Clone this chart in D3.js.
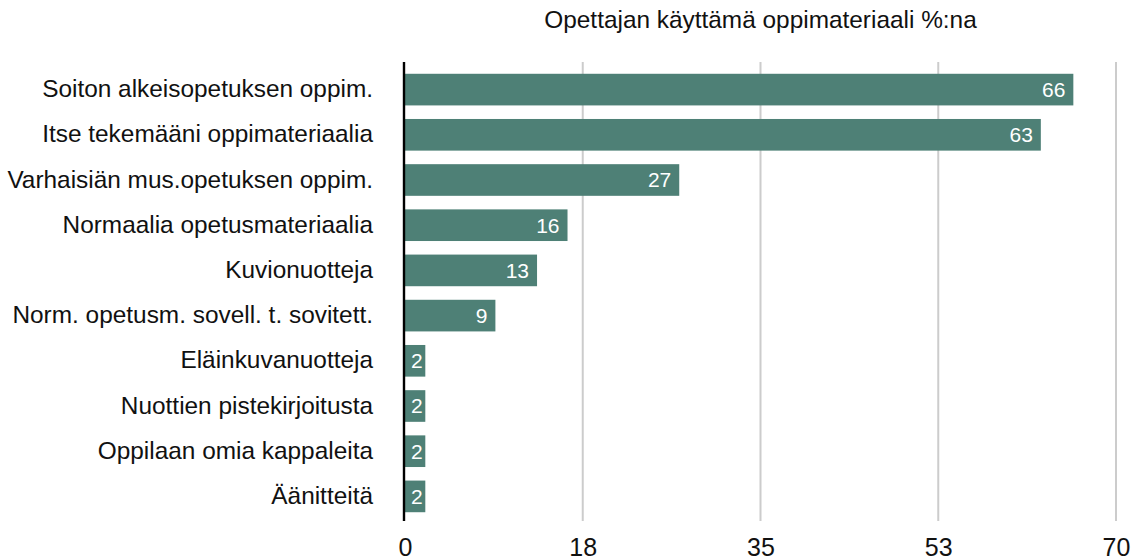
<!DOCTYPE html>
<html>
<head>
<meta charset="utf-8">
<script src="https://cdn.jsdelivr.net/npm/d3@7"></script>
<style>
  html, body { margin: 0; padding: 0; background: #fff; }
  svg { display: block; font-family: "Liberation Sans", Arial, Helvetica, sans-serif; }
</style>
</head>
<body>
<svg id="chart" width="1144" height="560"></svg>
<script>
const title = "Opettajan käyttämä oppimateriaali %:na";
const categories = [
  "Soiton alkeisopetuksen oppim.",
  "Itse tekemääni oppimateriaalia",
  "Varhaisiän mus.opetuksen oppim.",
  "Normaalia opetusmateriaalia",
  "Kuvionuotteja",
  "Norm. opetusm. sovell. t. sovitett.",
  "Eläinkuvanuotteja",
  "Nuottien pistekirjoitusta",
  "Oppilaan omia kappaleita",
  "Äänitteitä"
];
const values = [65.8, 62.6, 27, 16, 13, 8.9, 2, 2, 2, 2];
const tickValues = [0, 17.5, 35, 52.5, 70];
const tickLabels = ["0", "18", "35", "53", "70"];

const svg = d3.select("#chart");
const x = d3.scaleLinear().domain([0, 70]).range([405, 1116]);
const y = d3.scaleBand().domain(categories).range([67, 519]).paddingInner(0.3).paddingOuter(0.15);

// gridlines
svg.append("g").selectAll("line")
  .data(tickValues.slice(1))
  .join("line")
  .attr("x1", d => x(d)).attr("x2", d => x(d))
  .attr("y1", 62).attr("y2", 521)
  .attr("stroke", "#cccccc").attr("stroke-width", 2);

// bars
svg.append("g").selectAll("rect")
  .data(values)
  .join("rect")
  .attr("x", x(0))
  .attr("y", (d, i) => y(categories[i]))
  .attr("width", d => x(d) - x(0))
  .attr("height", y.bandwidth())
  .attr("fill", "#4e8076");

// value labels
const fmt = d3.format(".0f");
svg.append("g").selectAll("text")
  .data(values)
  .join("text")
  .each(function(d, i) {
    const t = d3.select(this);
    const w = x(d) - x(0);
    const small = w < 40;
    t.attr("x", small ? x(0) + 6 : x(d) - 8)
     .attr("text-anchor", small ? "start" : "end")
     .attr("y", y(categories[i]) + y.bandwidth() / 2)
     .attr("dy", "0.35em")
     .attr("fill", "#ffffff")
     .attr("font-size", 21)
     .text(fmt(d));
  });

// category labels
svg.append("g").selectAll("text")
  .data(categories)
  .join("text")
  .attr("x", 373)
  .attr("y", d => y(d) + y.bandwidth() / 2)
  .attr("dy", "0.31em")
  .attr("text-anchor", "end")
  .attr("font-size", 24.4)
  .attr("fill", "#111")
  .text(d => d);

// axis line
svg.append("line")
  .attr("x1", 404).attr("x2", 404)
  .attr("y1", 62).attr("y2", 521)
  .attr("stroke", "#000").attr("stroke-width", 2.4);

// x axis tick labels
const axis = d3.axisBottom(x).tickValues(tickValues)
  .tickFormat((d, i) => tickLabels[i]).tickSize(0).tickPadding(0);
const ag = svg.append("g").attr("transform", "translate(0,556)").call(axis);
ag.select(".domain").remove();
ag.selectAll("text")
  .attr("font-size", 25)
  .attr("fill", "#111")
  .attr("dy", "0")
  .style("font-family", "'Liberation Sans', Arial, Helvetica, sans-serif");

// title
svg.append("text")
  .attr("x", (x(0) + x(70)) / 2)
  .attr("y", 28)
  .attr("text-anchor", "middle")
  .attr("font-size", 24.4)
  .attr("fill", "#111")
  .text(title);
</script>
</body>
</html>
